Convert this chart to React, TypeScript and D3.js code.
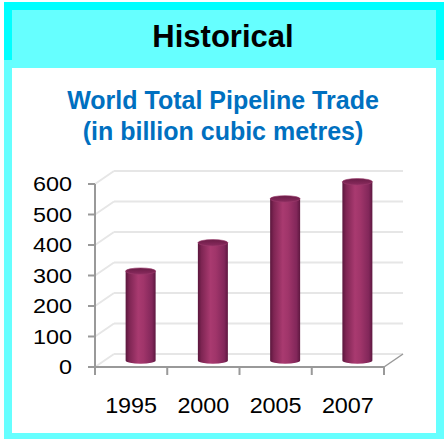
import * as d3 from "d3";

const years = ["1995", "2000", "2005", "2007"];
const trade = [293, 386, 530, 586];
const yTicks = [0, 100, 200, 300, 400, 500, 600];

const W = 444;
const H = 439;
const FONT = "'Liberation Sans', Arial, Helvetica, sans-serif";

// 3d depth offset of the plot box
const depthX = 19;
const depthY = -13;

export default function App() {
  const x = d3.scaleBand<string>().domain(years).range([95, 384]).padding(0);
  const y = d3.scaleLinear().domain([0, 600]).range([367, 184]);

  const rx = 15;
  const ry = 3.2;
  const x0 = x.range()[0];
  const x1 = x.range()[1];
  const yBase = y(0);

  const cylinders = years.map((yr, i) => {
    const cx = (x(yr) as number) + x.bandwidth() / 2 + depthX / 2;
    const bot = y(0) + depthY / 2;
    const top = y(trade[i]) + depthY / 2;
    const body = `M${cx - rx},${top} L${cx - rx},${bot} A${rx},${ry} 0 0 0 ${cx + rx},${bot} L${cx + rx},${top} Z`;
    return { yr, cx, top, body };
  });

  return (
    <svg
      width={W}
      height={H}
      style={{ position: "absolute", left: 0, top: 0, display: "block" }}
    >
      <defs>
        <linearGradient id="cyl" x1="0" x2="1" y1="0" y2="0">
          <stop offset="0" stopColor="#5a163c" />
          <stop offset="0.12" stopColor="#7e2553" />
          <stop offset="0.42" stopColor="#a93a70" />
          <stop offset="0.6" stopColor="#a0356a" />
          <stop offset="0.88" stopColor="#82275a" />
          <stop offset="1" stopColor="#5e1840" />
        </linearGradient>
        <linearGradient id="cap" x1="0" x2="0" y1="0" y2="1">
          <stop offset="0" stopColor="#6a1c46" />
          <stop offset="1" stopColor="#8a2b5e" />
        </linearGradient>
      </defs>

      {/* frame */}
      <rect x={4} y={60} width={440} height={379} fill="#66ffff" />
      <rect x={12} y={68} width={424} height={365} fill="#ffffff" />
      <rect x={4} y={2} width={440} height={58} fill="#00ffff" />
      <rect x={12} y={10} width={424} height={50} fill="#66ffff" />

      <text
        x={223}
        y={47}
        textAnchor="middle"
        fontFamily={FONT}
        fontWeight="bold"
        fontSize={31}
        fill="#000"
      >
        Historical
      </text>

      <text
        textAnchor="middle"
        fontFamily={FONT}
        fontWeight="bold"
        fontSize={25}
        fill="#0070c0"
      >
        <tspan x={223} y={109}>World Total Pipeline Trade</tspan>
        <tspan x={223} y={140}>(in billion cubic metres)</tspan>
      </text>

      {/* back wall + side wall gridlines */}
      <g stroke="#e6e6e6" strokeWidth={2} fill="none">
        {yTicks.map((t) => (
          <g key={t}>
            <line x1={x0} y1={y(t)} x2={x0 + depthX} y2={y(t) + depthY} />
            <line
              x1={x0 + depthX}
              y1={y(t) + depthY}
              x2={x1 + depthX}
              y2={y(t) + depthY}
            />
          </g>
        ))}
      </g>

      {/* floor right edge */}
      <line
        x1={x1}
        y1={yBase}
        x2={x1 + depthX}
        y2={yBase + depthY}
        stroke="#999"
        strokeWidth={1.5}
      />

      {/* axes */}
      <g stroke="#999" strokeWidth={2} fill="none">
        <line x1={x0} y1={y(600)} x2={x0} y2={yBase + 8} />
        <line x1={x0} y1={yBase} x2={x1} y2={yBase} />
        {yTicks.map((t) => (
          <line key={t} x1={x0 - 7} y1={y(t)} x2={x0} y2={y(t)} />
        ))}
        {[...years.map((yr) => x(yr) as number), x1].map((v, i) => (
          <line key={i} x1={v} y1={yBase} x2={v} y2={yBase + 8} />
        ))}
      </g>

      {/* cylinders */}
      {cylinders.map((c) => (
        <g key={c.yr}>
          <path d={c.body} fill="url(#cyl)" />
          <ellipse
            cx={c.cx}
            cy={c.top}
            rx={rx}
            ry={ry}
            fill="url(#cap)"
            stroke="#9a3a6c"
            strokeWidth={0.6}
          />
        </g>
      ))}

      {/* tick labels */}
      <g fontFamily={FONT} fontSize={20} fill="#000">
        {yTicks.map((t) => {
          const s = String(t);
          return (
            <text
              key={t}
              x={72}
              y={y(t) + 7.3}
              textAnchor="end"
              textLength={13 * s.length}
              lengthAdjust="spacingAndGlyphs"
            >
              {s}
            </text>
          );
        })}
      </g>
      <g fontFamily={FONT} fontSize={22} fill="#000">
        {years.map((yr) => (
          <text
            key={yr}
            x={(x(yr) as number) + x.bandwidth() / 2 - 26}
            y={413}
            textLength={52}
            lengthAdjust="spacingAndGlyphs"
          >
            {yr}
          </text>
        ))}
      </g>
    </svg>
  );
}
